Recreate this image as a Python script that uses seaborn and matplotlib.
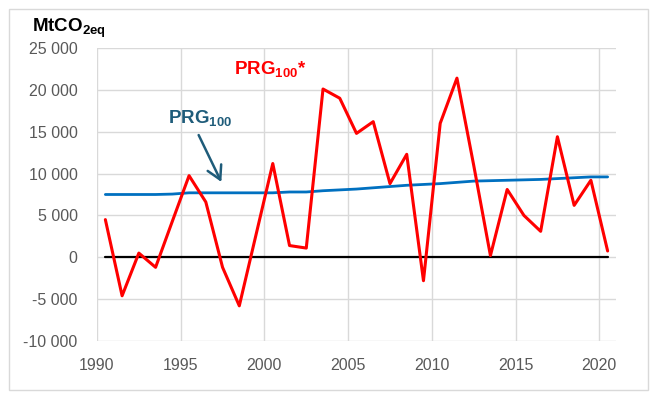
import numpy as np
import pandas as pd
import matplotlib
matplotlib.use("Agg")
import matplotlib.pyplot as plt
import seaborn as sns
from matplotlib.patches import Rectangle

# Données (MtCO2eq)
annees = list(range(1990, 2021))
prg100_etoile = [4500, -4600, 500, -1200, 4300, 9750, 6600, -1200, -5800, 2700,
                 11200, 1400, 1100, 20100, 19000, 14800, 16200, 8800, 12300, -2800,
                 16000, 21400, 11000, 200, 8100, 5000, 3100, 14400, 6200, 9200, 750]
prg100 = [7500, 7500, 7500, 7500, 7550, 7700, 7700, 7700, 7700, 7700,
          7700, 7800, 7800, 7950, 8050, 8150, 8300, 8450, 8600, 8700,
          8800, 8950, 9100, 9150, 9200, 9250, 9300, 9400, 9500, 9600, 9600]
zero = [0] * len(annees)

yticks = [-10000, -5000, 0, 5000, 10000, 15000, 20000, 25000]
xticks = [1990, 1995, 2000, 2005, 2010, 2015, 2020]

df = pd.DataFrame({
    "x": np.array(annees) + 0.5,   # points placés en milieu d'année
    "prg_etoile": prg100_etoile,
    "prg": prg100,
    "zero": zero,
})

sns.set_theme(style="whitegrid")
plt.rcParams["font.family"] = ["Liberation Sans", "DejaVu Sans"]
plt.rcParams["mathtext.fontset"] = "custom"
plt.rcParams["mathtext.rm"] = "Liberation Sans"
plt.rcParams["mathtext.bf"] = "Liberation Sans:bold"

fig = plt.figure(figsize=(6.54, 3.96), dpi=100)
ax = fig.add_axes([0.1483, 0.1389, 0.7936, 0.7399])

sns.lineplot(data=df, x="x", y="zero", color="black", linewidth=1.6, ax=ax)
sns.lineplot(data=df, x="x", y="prg", color="#0070C0", linewidth=2.0, ax=ax)
sns.lineplot(data=df, x="x", y="prg_etoile", color="#FF0000", linewidth=2.2, ax=ax)

ax.set_xlim(1990, 2021)
ax.set_ylim(-10000, 25000)
ax.set_xticks(xticks)
ax.set_yticks(yticks)
ax.set_yticklabels([f"{v:,}".replace(",", " ") for v in yticks])
ax.set_xlabel("")
ax.set_ylabel("")
ax.grid(True, color="#D9D9D9", linewidth=1)
for s in ax.spines.values():
    s.set_visible(False)
ax.tick_params(axis="both", length=0, labelsize=11.5, labelcolor="#595959")
ax.tick_params(axis="y", pad=14)
ax.tick_params(axis="x", pad=12)

# Annotations
ax.text(1998.2, 21800, r"PRG$_\mathbf{100}$*", color="#FF0000",
        fontsize=13.5, fontweight="bold", va="baseline", ha="left")
ax.text(1994.25, 15950, r"PRG$_\mathbf{100}$", color="#1F5C7A",
        fontsize=13.5, fontweight="bold", va="baseline", ha="left")
ax.annotate("", xy=(1997.5, 8700), xytext=(1996.0, 14900),
            arrowprops=dict(arrowstyle="->,head_length=0.8,head_width=0.45",
                            color="#1F5C7A", linewidth=1.8))

fig.text(0.0485, 0.92, r"MtCO$_\mathbf{2eq}$", fontsize=13.5,
         fontweight="bold", color="black", va="baseline", ha="left")

# Cadre du graphique
fig.patches.append(Rectangle((9 / 654, 6 / 396), 639 / 654, 381 / 396,
                             transform=fig.transFigure, fill=False,
                             edgecolor="#D9D9D9", linewidth=1))

fig.savefig("out.png", dpi=100)
